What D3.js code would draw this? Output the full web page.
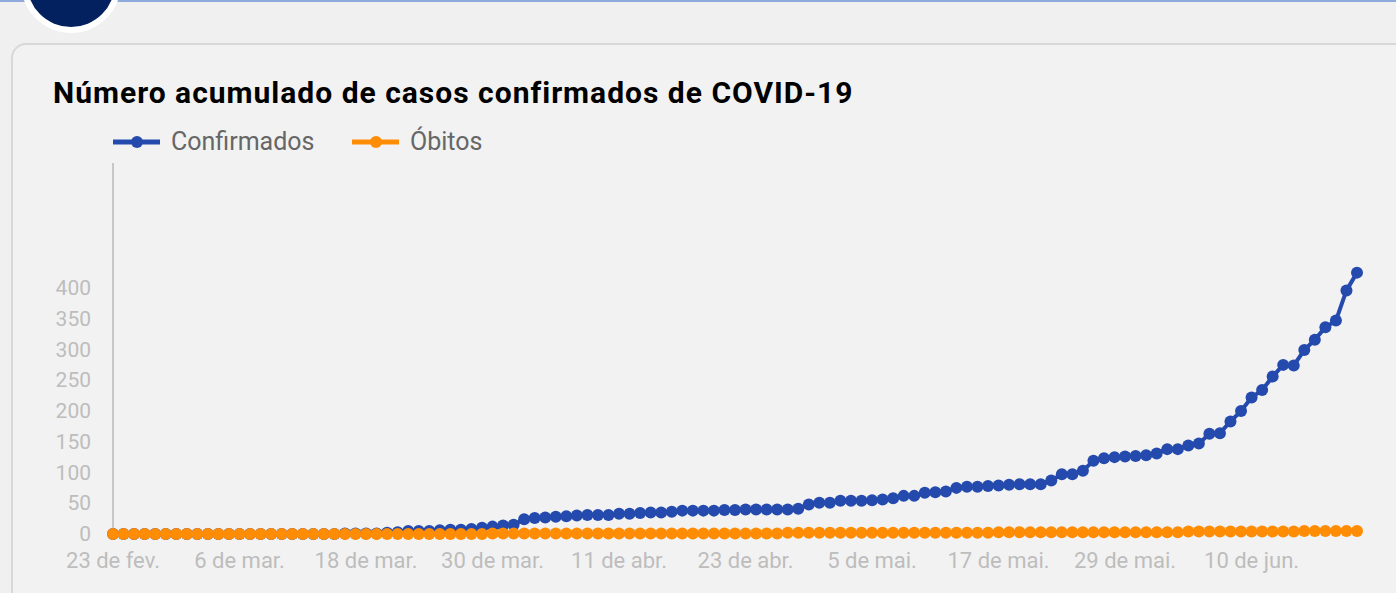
<html>
<head>
<script src="https://d3js.org/d3.v7.min.js"></script>
<style>
body { margin: 0; background-color: #f0f0f0; overflow: hidden; }
svg { display: block; font-family: Roboto, "Noto Sans", sans-serif; }
</style>
</head>
<body>
<div id="chart"></div>
<script>
// daily cumulative counts, one per day starting 23 Feb 2020
var startDate = new Date(2020, 1, 23);
var confirmados = [0,0,0,0,0,0,0,0,0,0, 0,0,0,0,0,0,0,0,0,0,
    0,0,1,1,1,1,2,3,5,5, 5,6,7,7,8,10,12,14,15,24,
    26,27,28,29,30,31,31,31,33,33, 34,35,35,36,38,38,38,38,39,39,
    40,40,40,40,40,41,48,51,51,54, 54,54,55,56,58,62,62,67,68,69,
    75,77,77,78,79,80,81,81,81,87, 97,97,103,119,123,125,126,127,128,131,
    138,138,144,147,163,164,183,200,222,234, 256,275,274,299,316,336,347,396,425];
var obitos = [0,0,0,0,0,0,0,0,0,0, 0,0,0,0,0,0,0,0,0,0,
    0,0,0,0,0,0,0,0,0,0, 0,0,0,0,0,0,1,1,1,1,
    1,1,1,1,1,1,1,1,1,1, 1,1,1,1,1,1,1,1,1,1,
    1,1,1,1,2,2,2,2,2,2, 2,2,2,2,2,2,2,2,2,2,
    2,2,2,2,3,3,3,3,3,3, 3,3,3,3,3,3,3,3,3,3,
    3,3,4,4,4,4,4,4,4,4, 4,4,4,5,5,5,5,5,5];
var xTickLabels = ["23 de fev.","6 de mar.","18 de mar.","30 de mar.","11 de abr.",
    "23 de abr.","5 de mai.","17 de mai.","29 de mai.","10 de jun."];
var yTicks = [0,50,100,150,200,250,300,350,400];

var dates = confirmados.map(function(d, i) { return d3.timeDay.offset(startDate, i); });

var W = 1396, H = 593;
var svg = d3.select("#chart").append("svg").attr("width", W).attr("height", H);

// page decoration: top rule, badge circle, card
svg.append("rect").attr("x", 0).attr("y", 0).attr("width", W).attr("height", 2).attr("fill", "#8eaadc");
svg.append("circle").attr("cx", 71).attr("cy", -17).attr("r", 50).attr("fill", "#fff");
svg.append("circle").attr("cx", 71).attr("cy", -17).attr("r", 44).attr("fill", "#02215e");
svg.append("rect").attr("x", 12).attr("y", 44).attr("width", 1400).attr("height", 600)
    .attr("rx", 14).attr("fill", "#f2f2f2").attr("stroke", "#d8d8d8").attr("stroke-width", 2);

svg.append("text").attr("x", 53).attr("y", 103)
    .attr("font-size", 30).attr("font-weight", "bold").attr("letter-spacing", 1).attr("fill", "#000")
    .text("Número acumulado de casos confirmados de COVID-19");

var x = d3.scaleTime().domain([dates[0], dates[dates.length - 1]]).range([113, 1357]);
var y = d3.scaleLinear().domain([0, 600]).range([534, 165]);

// legend
var legend = [["Confirmados", "#244aad", 113], ["Óbitos", "#ff8c05", 352]];
legend.forEach(function(l) {
    var g = svg.append("g").attr("transform", "translate(" + l[2] + ",142)");
    g.append("line").attr("x1", 0).attr("x2", 47).attr("stroke", l[1]).attr("stroke-width", 5);
    g.append("circle").attr("cx", 24).attr("r", 6).attr("fill", l[1]);
    g.append("text").attr("x", 58).attr("y", 8).attr("font-size", 25).attr("fill", "#666").text(l[0]);
});

// y axis
svg.append("line").attr("x1", 113).attr("x2", 113).attr("y1", 163).attr("y2", 534)
    .attr("stroke", "#b8b8b8").attr("stroke-width", 1.5);
svg.selectAll(".ytick").data(yTicks).enter().append("text")
    .attr("x", 91).attr("y", function(d) { return y(d) + 7; })
    .attr("text-anchor", "end").attr("font-size", 21).attr("fill", "#bdbdbd")
    .text(function(d) { return d; });

// x tick labels every 12 days
svg.selectAll(".xtick").data(xTickLabels).enter().append("text")
    .attr("x", function(d, i) { return x(dates[i * 12]); }).attr("y", 568)
    .attr("text-anchor", "middle").attr("font-size", 22).attr("fill", "#bdbdbd")
    .text(function(d) { return d; });

function drawSeries(values, color) {
    var line = d3.line().x(function(d, i) { return x(dates[i]); }).y(function(d) { return y(d); });
    svg.append("path").datum(values).attr("d", line).attr("fill", "none")
        .attr("stroke", color).attr("stroke-width", 4);
    svg.append("g").selectAll("circle").data(values).enter().append("circle")
        .attr("cx", function(d, i) { return x(dates[i]); })
        .attr("cy", function(d) { return y(d); })
        .attr("r", 6).attr("fill", color);
}
drawSeries(confirmados, "#244aad");
drawSeries(obitos, "#ff8c05");
</script>
</body>
</html>
